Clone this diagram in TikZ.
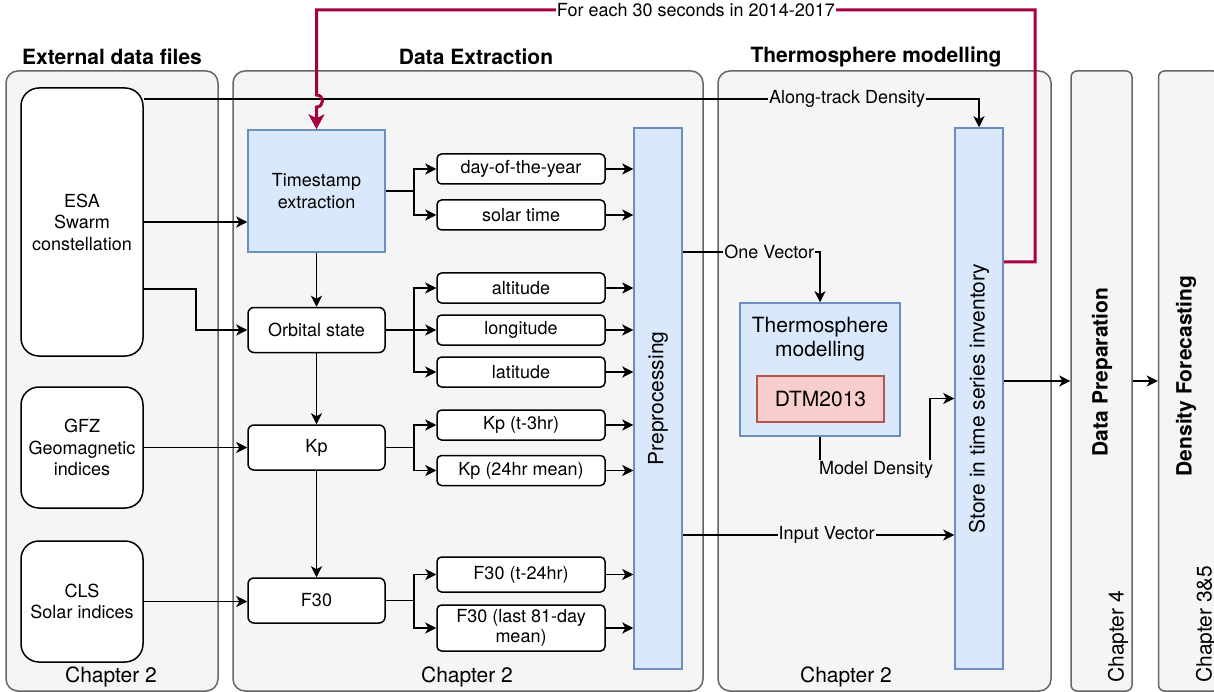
\documentclass[tikz,border=0pt]{standalone}
\usepackage{fontspec}
\setmainfont{TeX Gyre Heros}
\usetikzlibrary{arrows.meta}
\usetikzlibrary{positioning}
\definecolor{panelfill}{HTML}{F5F5F5}
\definecolor{panelline}{HTML}{666666}
\definecolor{bluefill}{HTML}{DAE8FC}
\definecolor{blueline}{HTML}{6C8EBF}
\definecolor{redfill}{HTML}{F8CECC}
\definecolor{redline}{HTML}{B85450}
\definecolor{loopcol}{HTML}{A50040}

\begin{document}
\begin{tikzpicture}
  [x=1pt, y=-1pt,
   font=\fontsize{18}{21.5}\selectfont,
   bigtext/.style={font=\fontsize{21}{24.5}\selectfont},
   panel/.style={draw=panelline, fill=panelfill, line width=1.5pt, rounded corners=12pt, inner sep=0pt},
   slimpanel/.style={panel, rounded corners=6pt, minimum width=61pt, minimum height=620pt},
   source/.style={draw, fill=white, line width=1.5pt, rounded corners=18pt,
         minimum width=122pt, minimum height=121pt, align=center},
   stage/.style={draw, fill=white, line width=1.5pt, rounded corners=6pt,
         minimum width=137pt, minimum height=45pt},
   feature/.style={draw, fill=white, line width=1.5pt, rounded corners=4.5pt,
         minimum width=168pt, minimum height=30pt, inner sep=1pt, align=center},
   process/.style={draw=blueline, fill=bluefill, line width=1.5pt, align=center},
   title/.style={font=\fontsize{21}{25}\selectfont\bfseries},
   chapter/.style={bigtext, inner sep=0pt},
   edgelabel/.style={fill=panelfill, inner sep=1pt},
   feedback/.style={draw=loopcol, line width=3pt,
         >={Stealth[length=15pt,width=16pt,inset=4pt]}},
   >={Stealth[length=11pt,width=11pt,inset=3pt]}
  ]
  \useasboundingbox (0,0) rectangle (1214,692);

  % panels
  \path
   (112,381)    node (extp)   [panel, minimum width=212pt, minimum height=620pt] {}
   (468,381)    node (extrp)  [panel, minimum width=470pt, minimum height=620pt] {}
   (884.5,381)  node (thermp) [panel, minimum width=333pt, minimum height=620pt] {}
   (1101.5,381) node (prepp)  [slimpanel] {}
   (1189,381)   node (forep)  [slimpanel] {};

  \node (extt)   [title] at (112,57) {External data files};
  \node (extrt)  [title] at (476,57) {Data Extraction};
  \node (thermt) [title] at (876,57) {Thermosphere modelling};
  \node (prept)  [title, rotate=90] at (1102,372) {Data Preparation};
  \node (foret)  [title, rotate=90] at (1186,376) {Density Forecasting};

  \node (chapa) [chapter] at (111,677) {Chapter 2};
  \node (chapb) [chapter] at (467,677) {Chapter 2};
  \node (chapc) [chapter] at (846,677) {Chapter 2};
  \node (chapd) [chapter, rotate=90, anchor=west] at (1118,683) {Chapter 4};
  \node (chape) [chapter, rotate=90, anchor=west] at (1206,683) {Chapter 3\&5};

  % data sources
  \node (esa) [source, minimum height=268pt] at (82,222) {ESA\\Swarm\\constellation};
  \node (gfz) [source] at (82,447.5) {GFZ\\Geomagnetic\\indices};
  \node (cls) [source] at (82,601.5) {CLS\\Solar indices};

  % extraction
  \node (ts)  [process, minimum width=137pt, minimum height=122pt] at (316.5,191) {Timestamp\\extraction};
  \node (orb) [stage] at (316.5,330) {Orbital state};
  \node (kp)  [stage] at (316.5,447.5) {Kp};
  \node (f30) [stage] at (316.5,600.5) {F30};

  \path
   (521,169)   node (doy)    [feature] {day-of-the-year}
   (521,215)   node (solt)   [feature] {solar time}
   (521,288)   node (alt)    [feature] {altitude}
   (521,330)   node (lon)    [feature] {longitude}
   (521,372)   node (lat)    [feature] {latitude}
   (521,425)   node (kplag)  [feature] {Kp (t-3hr)}
   (521,470.5) node (kpmean) [feature] {Kp (24hr mean)}
   (521,574.5) node (flag)   [feature, minimum height=35pt] {F30 (t-24hr)}
   (521,628)   node (fmean)  [feature, minimum height=46pt, font=\fontsize{18}{20}\selectfont] {F30 (last 81-day\\mean)};

  \node (prep) [process, minimum width=48pt, minimum height=541pt] at (658,398.5) {};
  \node (preptxt) [bigtext, rotate=90] at (prep) {Preprocessing};

  % modelling
  \node (thermo) [process, minimum width=160pt, minimum height=133pt] at (820,369.5) {};
  \node (thermotxt) [bigtext, align=center] at (820,339) {Thermosphere\\modelling};
  \node (dtm) [bigtext, draw=redline, fill=redfill, line width=1.5pt, minimum width=127pt, minimum height=46pt]
        at (820.5,399) {DTM2013};

  \node (store) [process, minimum width=48pt, minimum height=541pt] at (979,398.5) {};
  \node (storetxt) [bigtext, rotate=90] at (store) {Store in time series inventory};

  \coordinate (mdc)   at (930,470);
  \coordinate (loopc) at (1035,10);
  \coordinate (hopa)  at (316.5,95);
  \coordinate (hopb)  at (316.5,107);

  \begin{scope}[line width=1.5pt]
   \draw [->] (esa.east) -- (esa.east -| ts.west);
   \draw [->] ([yshift=-67pt]esa.east) -- ++(52,0) |- (orb.west);
   \draw [->] (gfz.east) -- (gfz.east -| kp.west);
   \draw [->] (cls.east) -- (cls.east -| f30.west);

   \draw [->] (ts) -- (orb);
   \draw [->] (orb) -- (kp);
   \draw [->] (kp) -- (f30);

   \foreach \f in {doy,solt} \draw [->] (ts.east) -- ++(28,0) |- (\f.west);
   \foreach \f in {alt,lon,lat} \draw [->] (orb.east) -- ++(28,0) |- (\f.west);
   \foreach \f in {kplag,kpmean} \draw [->] (kp.east) -- ++(28,0) |- (\f.west);
   \foreach \f in {flag,fmean} \draw [->] (f30.east) -- ++(28,0) |- (\f.west);
   \foreach \f in {doy,solt,alt,lon,lat,kplag,kpmean,flag,fmean}
     \draw [->] (\f.east) -- (\f.east -| prep.west);

   \draw [->] ([yshift=-12pt]esa.north east) -| node[pos=0.421, edgelabel]{Along-track Density} (store.north);
   \draw [->] ([yshift=146.5pt]prep.east) -| node[pos=0.315, edgelabel]{One Vector} (thermo.north);
   \draw [->] ([yshift=-136.5pt]prep.east) -- node[pos=0.53, edgelabel]{Input Vector} ([yshift=-136.5pt]store.west);
   \draw [->] (thermo.south) |- node[pos=0.755, edgelabel]{Model Density} (mdc) |- (store.west);

   \draw [->] (store.east |- prepp.west) -- (prepp.west);
   \draw [->] (prepp.east) -- (forep.west);
  \end{scope}

  \draw [feedback, ->] ([yshift=136.5pt]store.east) -| (loopc)
     -| node[pos=0.236, fill=white, inner sep=1pt, text=black]{For each 30 seconds in 2014-2017} (hopa)
     .. controls +(8,0) and +(8,0) .. (hopb) -- (ts.north);

\end{tikzpicture}
\end{document}
